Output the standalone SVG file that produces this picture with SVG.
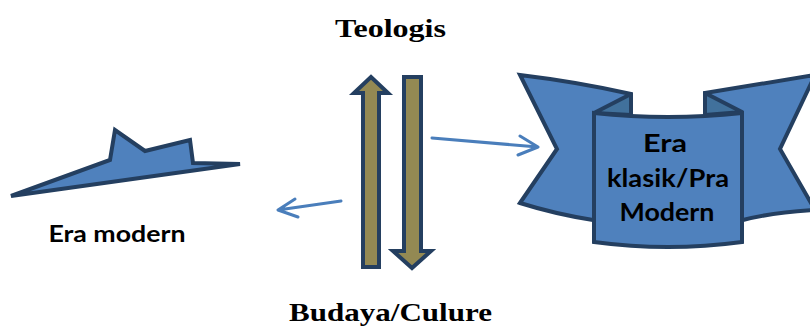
<svg xmlns="http://www.w3.org/2000/svg" width="810" height="328" viewBox="0 0 810 328">
<defs>
<style>
.shape{fill:#4F81BD;stroke:#243F60;stroke-width:4;stroke-linejoin:miter}
.fold{fill:#41719C;stroke:#243F60;stroke-width:4;stroke-linejoin:round}
.bar{fill:#938953;stroke:#243F60;stroke-width:4}
.conn{fill:none;stroke:#4A7EBB;stroke-width:3;stroke-linecap:round;stroke-linejoin:round}
.serif{font-family:"Liberation Serif",serif;font-weight:bold;font-size:26px;fill:#000}
.sans{font-family:Lato,"Open Sans",sans-serif;font-weight:bold;fill:#000;text-anchor:middle}
</style>
</defs>
<rect width="810" height="328" fill="#fff"/>
<g id="teologis"><text class="serif" x="335" y="37" textLength="111" lengthAdjust="spacingAndGlyphs">Teologis</text></g>
<g id="budaya"><text class="serif" x="289" y="321" textLength="203" lengthAdjust="spacingAndGlyphs">Budaya/Culure</text></g>
<g id="era-modern">
<path class="shape" d="M11,196 L110,160 L115,130 L145,151 L190,140 L193,163 L240,164 Z"/>
<text class="sans" x="117" y="242" font-size="22" textLength="137" lengthAdjust="spacingAndGlyphs">Era modern</text>
</g>
<g id="up-arrow"><path class="bar" d="M363,267 L363,93 L354,93 L371,77 L388,93 L379,93 L379,267 Z"/></g>
<g id="down-arrow"><path class="bar" d="M404,77 L421,77 L421,251 L431,251 L412,268 L393,251 L404,251 Z"/></g>
<g id="era-klasik">
<path class="shape" d="M520,75 Q578,82 631,94 L631,200 L593,220 Q555,214 520,203 L557,149 Z"/>
<path class="shape" d="M705,93 Q760,84 815,75 L780,149 L815,210 Q775,212 743,220 L705,200 Z"/>
<path class="fold" d="M631,94 L594,113 L631,115 Z"/>
<path class="fold" d="M705,93 L742,112 L705,115 Z"/>
<path class="shape" d="M594,113 Q668,121 742,113 L742,242 Q668,252 594,242 Z"/>
<text class="sans" font-size="24"><tspan x="665" y="152" textLength="44" lengthAdjust="spacingAndGlyphs">Era</tspan><tspan x="668" y="187" textLength="122" lengthAdjust="spacingAndGlyphs">klasik/Pra</tspan><tspan x="667" y="221" textLength="95" lengthAdjust="spacingAndGlyphs">Modern</tspan></text>
</g>
<g id="connectors">
<path class="conn" d="M432,138 L538,147 M520,136 L538,147 L518,155"/>
<path class="conn" d="M341,201 L278,210 M295,199 L278,210 L298,217"/>
</g>
</svg>
